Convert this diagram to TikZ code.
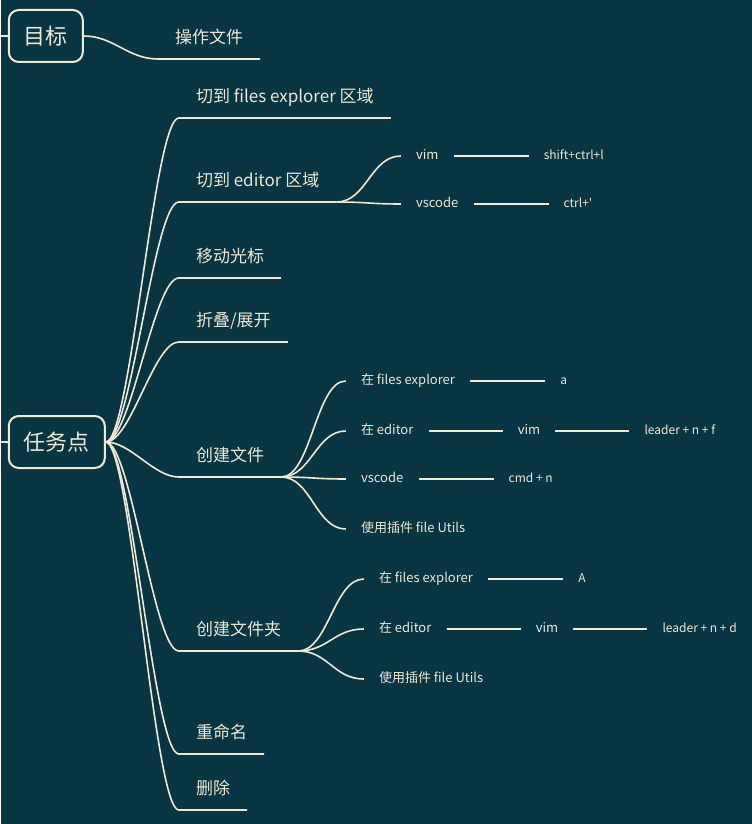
\documentclass[tikz,border=0pt]{standalone}
\usepackage{fontspec}
\setmainfont{Noto Sans CJK SC}
\usetikzlibrary{positioning}
\definecolor{bgteal}{HTML}{073642}
\definecolor{cream}{HTML}{EEE8D5}

\begin{document}
\begin{tikzpicture}[x=1pt, y=-1pt,
    topic/.style={draw=cream, line width=2pt, rounded corners=10pt, text=cream, minimum height=52pt, inner xsep=15pt, font=\fontsize{22}{26}\selectfont},
    branch/.style={anchor=south west, text=cream, inner xsep=17pt, inner ysep=12pt, text height=12pt, text depth=3pt, font=\fontsize{17}{20}\selectfont},
    leaf/.style={anchor=west, text=cream, inner xsep=15pt, inner ysep=2pt, text height=9pt, text depth=3pt, font=\fontsize{13}{15}\selectfont},
    key/.style={leaf, font=\fontsize{12}{14}\selectfont},
    wire/.style={draw=cream, line width=1.6pt}]
    \fill[bgteal] (0,0) rectangle (751,824);

    \coordinate (goalin) at (0,36);
    \node[topic, anchor=west] (goal) at (7,36) {目标};
    \node[branch] (op) at (157,59) {操作文件};
    \draw[wire] (goalin) -- (goal.west);
    \draw[wire] (goal.east) .. controls +(30,0) and +(-30,0) .. (op.south west) -- (op.south east);

    \coordinate (taskin) at (0,442);
    \node[topic, anchor=west] (task) at (7,442) {任务点};
    \draw[wire] (taskin) -- (task.west);

    \node[branch] (fe) at (178,118) {切到 files explorer 区域};
    \node[branch] (ed) at (178,202) {切到 editor 区域};
    \node[branch] (mv) at (178,278) {移动光标};
    \node[branch] (fold) at (178,342) {折叠/展开};
    \node[branch] (nf) at (178,477) {创建文件};
    \node[branch] (nd) at (178,651) {创建文件夹};
    \node[branch] (ren) at (178,754) {重命名};
    \node[branch] (del) at (178,810) {删除};

    \foreach \b in {fe,ed,mv,fold,nf,nd,ren,del}
      \draw[wire] (task.east) .. controls +(25,0) and +(-25,0) .. (\b.south west) -- (\b.south east);

    \node[leaf] (edvim) at (400,156) {vim};
    \node[key, right=75pt of edvim] (edvimk) {shift+ctrl+l};
    \node[leaf] (edvs) at (400,204) {vscode};
    \node[key, right=75pt of edvs] (edvsk) {ctrl+\textquotesingle};

    \node[leaf] (nfex) at (345,381) {在 files explorer};
    \node[key, right=75pt of nfex] (nfexk) {a};
    \node[leaf] (nfed) at (345,431) {在 editor};
    \node[leaf, right=74pt of nfed] (nfvim) {vim};
    \node[key, right=74pt of nfvim] (nfvimk) {leader + n + f};
    \node[leaf] (nfvs) at (345,479) {vscode};
    \node[key, right=75pt of nfvs] (nfvsk) {cmd + n};
    \node[leaf] (nfut) at (345,529) {使用插件 file Utils};

    \node[leaf] (ndex) at (363,579) {在 files explorer};
    \node[key, right=75pt of ndex] (ndexk) {A};
    \node[leaf] (nded) at (363,629) {在 editor};
    \node[leaf, right=74pt of nded] (ndvim) {vim};
    \node[key, right=74pt of ndvim] (ndvimk) {leader + n + d};
    \node[leaf] (ndut) at (363,679) {使用插件 file Utils};

    \foreach \p/\c in {ed/edvim, ed/edvs, nf/nfex, nf/nfed, nf/nfvs, nf/nfut, nd/ndex, nd/nded, nd/ndut}
      \draw[wire] (\p.south east) .. controls +(30,0) and +(-30,0) .. (\c.west);

    \foreach \a/\b in {edvim/edvimk, edvs/edvsk, nfex/nfexk, nfed/nfvim, nfvim/nfvimk, nfvs/nfvsk, ndex/ndexk, nded/ndvim, ndvim/ndvimk}
      \draw[wire] (\a.east) -- (\b.west);
\end{tikzpicture}
\end{document}
